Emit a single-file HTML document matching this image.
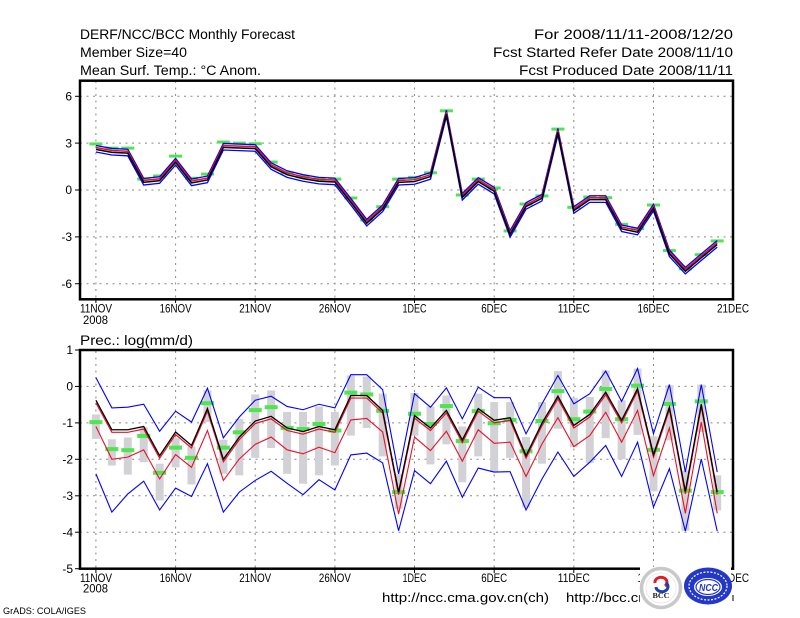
<!DOCTYPE html>
<html><head><meta charset="utf-8"><style>
html,body{margin:0;padding:0;background:#fff;}
svg{display:block;}
</style></head><body>
<svg width="800" height="618" viewBox="0 0 800 618" xmlns="http://www.w3.org/2000/svg" font-family="'Liberation Sans', sans-serif" fill="#000">
<rect x="0" y="0" width="800" height="618" fill="#fff"/>
<defs>
<polyline id="tm" fill="none" vector-effect="non-scaling-stroke" points="1,2.64 2,2.45 3,2.4 4,0.53 5,0.64 6,1.81 7,0.49 8,0.68 9,2.77 10,2.73 11,2.69 12,1.53 13,1.02 14,0.77 15,0.6 16,0.55 17,-0.75 18,-2.09 19,-1.17 20,0.53 21,0.58 22,0.9 23,4.9 24,-0.43 25,0.58 26,-0.04 27,-2.81 28,-1.02 29,-0.49 30,3.73 31,-1.28 32,-0.58 33,-0.58 34,-2.45 35,-2.66 36,-1.13 37,-4.05 38,-5.16 39,-4.3 40,-3.45"/>
<polyline id="bk" fill="none" vector-effect="non-scaling-stroke" points="1,-0.38 2,-1.19 3,-1.19 4,-1.1 5,-1.9 6,-1.25 7,-1.62 8,-0.61 9,-2.0 10,-1.39 11,-0.95 12,-0.82 13,-1.14 14,-1.24 15,-1.1 16,-1.19 17,-0.25 18,-0.25 19,-0.66 20,-2.9 21,-0.8 22,-1.14 23,-0.66 24,-1.47 25,-0.61 26,-0.93 27,-0.86 28,-1.9 29,-1.01 30,-0.27 31,-1.07 32,-0.77 33,-0.16 34,-0.93 35,-0.06 36,-1.87 37,-0.57 38,-2.88 39,-0.49 40,-2.9"/>
</defs>

<text x="80" y="39" font-size="13.5" textLength="215" lengthAdjust="spacingAndGlyphs">DERF/NCC/BCC Monthly Forecast</text>
<text x="80" y="57" font-size="13.5" textLength="107" lengthAdjust="spacingAndGlyphs">Member Size=40</text>
<text x="80" y="75" font-size="13.5" textLength="181" lengthAdjust="spacingAndGlyphs">Mean Surf. Temp.: °C Anom.</text>
<text x="534" y="39" font-size="13.5" textLength="199" lengthAdjust="spacingAndGlyphs">For 2008/11/11-2008/12/20</text>
<text x="493" y="57" font-size="13.5" textLength="240" lengthAdjust="spacingAndGlyphs">Fcst Started Refer Date 2008/11/10</text>
<text x="519" y="75" font-size="13.5" textLength="214" lengthAdjust="spacingAndGlyphs">Fcst Produced Date 2008/11/11</text>

<g stroke="#888" stroke-width="1" stroke-dasharray="2,4.5" fill="none">
<line x1="80" y1="96.3" x2="733" y2="96.3"/>
<line x1="80" y1="143.1" x2="733" y2="143.1"/>
<line x1="80" y1="190" x2="733" y2="190"/>
<line x1="80" y1="236.9" x2="733" y2="236.9"/>
<line x1="80" y1="283.7" x2="733" y2="283.7"/>
<line x1="95.9" y1="81" x2="95.9" y2="299"/>
<line x1="175.6" y1="81" x2="175.6" y2="299"/>
<line x1="255.2" y1="81" x2="255.2" y2="299"/>
<line x1="334.9" y1="81" x2="334.9" y2="299"/>
<line x1="414.5" y1="81" x2="414.5" y2="299"/>
<line x1="494.2" y1="81" x2="494.2" y2="299"/>
<line x1="573.8" y1="81" x2="573.8" y2="299"/>
<line x1="653.5" y1="81" x2="653.5" y2="299"/>
</g>
<g transform="translate(80,190) scale(15.93,-15.62)">
<g fill="#4ee64e">
<rect x="0.592" y="2.854" width="0.816" height="0.192"/>
<rect x="1.592" y="2.584" width="0.816" height="0.192"/>
<rect x="2.592" y="2.584" width="0.816" height="0.192"/>
<rect x="3.592" y="0.604" width="0.816" height="0.192"/>
<rect x="4.592" y="0.804" width="0.816" height="0.192"/>
<rect x="5.592" y="2.074" width="0.816" height="0.192"/>
<rect x="6.592" y="0.654" width="0.816" height="0.192"/>
<rect x="7.592" y="0.924" width="0.816" height="0.192"/>
<rect x="8.592" y="2.974" width="0.816" height="0.192"/>
<rect x="9.592" y="2.904" width="0.816" height="0.192"/>
<rect x="10.592" y="2.864" width="0.816" height="0.192"/>
<rect x="11.592" y="1.694" width="0.816" height="0.192"/>
<rect x="12.592" y="1.004" width="0.816" height="0.192"/>
<rect x="13.592" y="0.754" width="0.816" height="0.192"/>
<rect x="14.592" y="0.604" width="0.816" height="0.192"/>
<rect x="15.592" y="0.604" width="0.816" height="0.192"/>
<rect x="16.592" y="-0.606" width="0.816" height="0.192"/>
<rect x="17.592" y="-2.016" width="0.816" height="0.192"/>
<rect x="18.592" y="-1.166" width="0.816" height="0.192"/>
<rect x="19.592" y="0.604" width="0.816" height="0.192"/>
<rect x="20.592" y="0.714" width="0.816" height="0.192"/>
<rect x="21.592" y="1.004" width="0.816" height="0.192"/>
<rect x="22.592" y="4.974" width="0.816" height="0.192"/>
<rect x="23.592" y="-0.416" width="0.816" height="0.192"/>
<rect x="24.592" y="0.604" width="0.816" height="0.192"/>
<rect x="25.592" y="0.034" width="0.816" height="0.192"/>
<rect x="26.592" y="-2.716" width="0.816" height="0.192"/>
<rect x="27.592" y="-0.996" width="0.816" height="0.192"/>
<rect x="28.592" y="-0.476" width="0.816" height="0.192"/>
<rect x="29.592" y="3.804" width="0.816" height="0.192"/>
<rect x="30.592" y="-1.206" width="0.816" height="0.192"/>
<rect x="31.592" y="-0.546" width="0.816" height="0.192"/>
<rect x="32.592" y="-0.586" width="0.816" height="0.192"/>
<rect x="33.592" y="-2.296" width="0.816" height="0.192"/>
<rect x="34.592" y="-2.566" width="0.816" height="0.192"/>
<rect x="35.592" y="-1.056" width="0.816" height="0.192"/>
<rect x="36.592" y="-3.976" width="0.816" height="0.192"/>
<rect x="37.592" y="-5.146" width="0.816" height="0.192"/>
<rect x="38.592" y="-4.236" width="0.816" height="0.192"/>
<rect x="39.592" y="-3.356" width="0.816" height="0.192"/>
</g>
<use href="#tm" transform="translate(0,0.21)" stroke="#0000ff" stroke-width="1.3"/>
<use href="#tm" transform="translate(0,-0.21)" stroke="#0000ff" stroke-width="1.3"/>
<use href="#tm" transform="translate(0,0.08)" stroke="#e8102a" stroke-width="1.5"/>
<use href="#tm" transform="translate(0,-0.04)" stroke="#000" stroke-width="1.5"/>
</g>
<rect x="80" y="80.7" width="653" height="218.6" fill="none" stroke="#000" stroke-width="2.5"/>
<g stroke="#000" stroke-width="1">
<line x1="75" y1="96.3" x2="80" y2="96.3"/>
<line x1="75" y1="143.1" x2="80" y2="143.1"/>
<line x1="75" y1="190" x2="80" y2="190"/>
<line x1="75" y1="236.9" x2="80" y2="236.9"/>
<line x1="75" y1="283.7" x2="80" y2="283.7"/>
<line x1="95.9" y1="299" x2="95.9" y2="303"/>
<line x1="175.6" y1="299" x2="175.6" y2="303"/>
<line x1="255.2" y1="299" x2="255.2" y2="303"/>
<line x1="334.9" y1="299" x2="334.9" y2="303"/>
<line x1="414.5" y1="299" x2="414.5" y2="303"/>
<line x1="494.2" y1="299" x2="494.2" y2="303"/>
<line x1="573.8" y1="299" x2="573.8" y2="303"/>
<line x1="653.5" y1="299" x2="653.5" y2="303"/>
</g>
<g font-size="12" text-anchor="end">
<text x="72" y="100.5">6</text>
<text x="72" y="147.3">3</text>
<text x="72" y="194.2">0</text>
<text x="72" y="241.1">-3</text>
<text x="72" y="287.9">-6</text>
</g>
<g font-size="11.5">
<text x="80" y="312.7" textLength="32" lengthAdjust="spacingAndGlyphs">11NOV</text>
<text x="83" y="324" textLength="25" lengthAdjust="spacingAndGlyphs">2008</text>
<text x="159.6" y="312.7" textLength="32" lengthAdjust="spacingAndGlyphs">16NOV</text>
<text x="239.2" y="312.7" textLength="32" lengthAdjust="spacingAndGlyphs">21NOV</text>
<text x="318.9" y="312.7" textLength="32" lengthAdjust="spacingAndGlyphs">26NOV</text>
<text x="402.5" y="312.7" textLength="24" lengthAdjust="spacingAndGlyphs">1DEC</text>
<text x="481.2" y="312.7" textLength="26" lengthAdjust="spacingAndGlyphs">6DEC</text>
<text x="557.8" y="312.7" textLength="32" lengthAdjust="spacingAndGlyphs">11DEC</text>
<text x="637.5" y="312.7" textLength="32" lengthAdjust="spacingAndGlyphs">16DEC</text>
<text x="717" y="312.7" textLength="32" lengthAdjust="spacingAndGlyphs">21DEC</text>
</g>

<text x="80" y="345" font-size="13.5" textLength="113" lengthAdjust="spacingAndGlyphs">Prec.: log(mm/d)</text>
<g stroke="#888" stroke-width="1" stroke-dasharray="2,4.5" fill="none">
<line x1="80" y1="386.4" x2="733" y2="386.4"/>
<line x1="80" y1="422.9" x2="733" y2="422.9"/>
<line x1="80" y1="459.3" x2="733" y2="459.3"/>
<line x1="80" y1="495.8" x2="733" y2="495.8"/>
<line x1="80" y1="532.2" x2="733" y2="532.2"/>
<line x1="95.9" y1="351" x2="95.9" y2="568"/>
<line x1="175.6" y1="351" x2="175.6" y2="568"/>
<line x1="255.2" y1="351" x2="255.2" y2="568"/>
<line x1="334.9" y1="351" x2="334.9" y2="568"/>
<line x1="414.5" y1="351" x2="414.5" y2="568"/>
<line x1="494.2" y1="351" x2="494.2" y2="568"/>
<line x1="573.8" y1="351" x2="573.8" y2="568"/>
<line x1="653.5" y1="351" x2="653.5" y2="568"/>
</g>
<g transform="translate(80,386.4) scale(15.93,-36.45)">
<g fill="#d2d2d6">
<rect x="0.749" y="-1.44" width="0.502" height="0.67"/>
<rect x="1.749" y="-2.17" width="0.502" height="0.72"/>
<rect x="2.749" y="-2.42" width="0.502" height="1.02"/>
<rect x="3.749" y="-2.08" width="0.502" height="0.96"/>
<rect x="4.749" y="-3.13" width="0.502" height="1.01"/>
<rect x="5.749" y="-2.22" width="0.502" height="0.80"/>
<rect x="6.749" y="-2.69" width="0.502" height="1.04"/>
<rect x="7.749" y="-0.98" width="0.502" height="0.87"/>
<rect x="8.749" y="-2.40" width="0.502" height="0.94"/>
<rect x="9.749" y="-2.44" width="0.502" height="1.55"/>
<rect x="10.749" y="-1.96" width="0.502" height="1.74"/>
<rect x="11.749" y="-1.69" width="0.502" height="1.58"/>
<rect x="12.749" y="-2.40" width="0.502" height="1.70"/>
<rect x="13.749" y="-2.67" width="0.502" height="1.97"/>
<rect x="14.749" y="-2.44" width="0.502" height="1.89"/>
<rect x="15.749" y="-2.17" width="0.502" height="1.47"/>
<rect x="16.749" y="-1.35" width="0.502" height="1.65"/>
<rect x="17.749" y="-1.14" width="0.502" height="1.41"/>
<rect x="18.749" y="-1.92" width="0.502" height="1.72"/>
<rect x="19.749" y="-3.36" width="0.502" height="0.96"/>
<rect x="20.749" y="-1.35" width="0.502" height="1.17"/>
<rect x="21.749" y="-2.14" width="0.502" height="1.59"/>
<rect x="22.749" y="-1.59" width="0.502" height="1.34"/>
<rect x="23.749" y="-2.63" width="0.502" height="1.53"/>
<rect x="24.749" y="-1.92" width="0.502" height="1.72"/>
<rect x="25.749" y="-2.35" width="0.502" height="1.92"/>
<rect x="26.749" y="-1.96" width="0.502" height="1.53"/>
<rect x="27.749" y="-3.32" width="0.502" height="1.93"/>
<rect x="28.749" y="-2.12" width="0.502" height="1.69"/>
<rect x="29.749" y="-1.16" width="0.502" height="1.58"/>
<rect x="30.749" y="-1.67" width="0.502" height="1.36"/>
<rect x="31.749" y="-2.10" width="0.502" height="1.81"/>
<rect x="32.749" y="-1.42" width="0.502" height="1.86"/>
<rect x="33.749" y="-2.00" width="0.502" height="1.62"/>
<rect x="34.749" y="-1.33" width="0.502" height="1.82"/>
<rect x="35.749" y="-2.88" width="0.502" height="1.51"/>
<rect x="36.749" y="-1.48" width="0.502" height="1.51"/>
<rect x="37.749" y="-3.96" width="0.502" height="1.65"/>
<rect x="38.749" y="-1.25" width="0.502" height="1.30"/>
<rect x="39.749" y="-3.40" width="0.502" height="0.96"/>
</g>
<g fill="#4ee64e">
<rect x="0.592" y="-1.035" width="0.816" height="0.11"/>
<rect x="1.592" y="-1.775" width="0.816" height="0.11"/>
<rect x="2.592" y="-1.805" width="0.816" height="0.11"/>
<rect x="3.592" y="-1.415" width="0.816" height="0.11"/>
<rect x="4.592" y="-2.425" width="0.816" height="0.11"/>
<rect x="5.592" y="-1.735" width="0.816" height="0.11"/>
<rect x="6.592" y="-2.015" width="0.816" height="0.11"/>
<rect x="7.592" y="-0.515" width="0.816" height="0.11"/>
<rect x="8.592" y="-1.735" width="0.816" height="0.11"/>
<rect x="9.592" y="-1.315" width="0.816" height="0.11"/>
<rect x="10.592" y="-0.705" width="0.816" height="0.11"/>
<rect x="11.592" y="-0.625" width="0.816" height="0.11"/>
<rect x="12.592" y="-1.195" width="0.816" height="0.11"/>
<rect x="13.592" y="-1.225" width="0.816" height="0.11"/>
<rect x="14.592" y="-1.085" width="0.816" height="0.11"/>
<rect x="15.592" y="-1.265" width="0.816" height="0.11"/>
<rect x="16.592" y="-0.225" width="0.816" height="0.11"/>
<rect x="17.592" y="-0.275" width="0.816" height="0.11"/>
<rect x="18.592" y="-0.725" width="0.816" height="0.11"/>
<rect x="19.592" y="-2.955" width="0.816" height="0.11"/>
<rect x="20.592" y="-0.805" width="0.816" height="0.11"/>
<rect x="21.592" y="-1.085" width="0.816" height="0.11"/>
<rect x="22.592" y="-0.595" width="0.816" height="0.11"/>
<rect x="23.592" y="-1.555" width="0.816" height="0.11"/>
<rect x="24.592" y="-0.735" width="0.816" height="0.11"/>
<rect x="25.592" y="-1.065" width="0.816" height="0.11"/>
<rect x="26.592" y="-0.975" width="0.816" height="0.11"/>
<rect x="27.592" y="-1.835" width="0.816" height="0.11"/>
<rect x="28.592" y="-1.005" width="0.816" height="0.11"/>
<rect x="29.592" y="-0.185" width="0.816" height="0.11"/>
<rect x="30.592" y="-0.955" width="0.816" height="0.11"/>
<rect x="31.592" y="-0.745" width="0.816" height="0.11"/>
<rect x="32.592" y="-0.125" width="0.816" height="0.11"/>
<rect x="33.592" y="-0.955" width="0.816" height="0.11"/>
<rect x="34.592" y="-0.035" width="0.816" height="0.11"/>
<rect x="35.592" y="-1.795" width="0.816" height="0.11"/>
<rect x="36.592" y="-0.535" width="0.816" height="0.11"/>
<rect x="37.592" y="-2.915" width="0.816" height="0.11"/>
<rect x="38.592" y="-0.465" width="0.816" height="0.11"/>
<rect x="39.592" y="-2.955" width="0.816" height="0.11"/>
</g>
<g fill="none">
<polyline vector-effect="non-scaling-stroke" stroke="#0000ff" stroke-width="1.1" points="1,0.24 2,-0.59 3,-0.57 4,-0.49 5,-1.23 6,-0.68 7,-0.98 8,-0.05 9,-1.41 10,-0.84 11,-0.38 12,-0.27 13,-0.55 14,-0.64 15,-0.49 16,-0.59 17,0.32 18,0.32 19,-0.09 20,-2.4 21,-0.2 22,-0.57 23,-0.04 24,-0.89 25,-0.02 26,-0.31 27,-0.31 28,-1.3 29,-0.48 30,0.3 31,-0.48 32,-0.2 33,0.42 34,-0.41 35,0.49 36,-1.3 37,0.05 38,-2.35 39,0.05 40,-2.35"/>
<polyline vector-effect="non-scaling-stroke" stroke="#0000ff" stroke-width="1.1" points="1,-2.4 2,-3.45 3,-2.95 4,-2.6 5,-3.39 6,-2.79 7,-3.02 8,-2.12 9,-3.45 10,-2.9 11,-2.58 12,-2.33 13,-2.66 14,-2.97 15,-2.56 16,-2.84 17,-1.88 18,-1.83 19,-2.1 20,-3.96 21,-2.31 22,-2.67 23,-2.05 24,-3.04 25,-2.24 26,-2.35 27,-2.34 28,-3.39 29,-2.54 30,-1.8 31,-2.47 32,-2.08 33,-1.62 34,-2.47 35,-1.53 36,-3.31 37,-2.26 38,-3.97 39,-1.99 40,-3.97"/>
<polyline vector-effect="non-scaling-stroke" stroke="#e8102a" stroke-width="1.1" points="1,-1.1 2,-2.0 3,-1.94 4,-1.74 5,-2.54 6,-1.87 7,-2.22 8,-1.21 9,-2.58 10,-1.99 11,-1.59 12,-1.39 13,-1.74 14,-1.85 15,-1.67 16,-1.82 17,-0.92 18,-0.88 19,-1.25 20,-3.5 21,-1.39 22,-1.76 23,-1.23 24,-2.05 25,-1.19 26,-1.56 27,-1.53 28,-2.47 29,-1.58 30,-0.86 31,-1.65 32,-1.35 33,-0.71 34,-1.53 35,-0.66 36,-2.45 37,-1.14 38,-3.48 39,-0.98 40,-3.48"/>
</g>
<use href="#bk" transform="translate(0,-0.07)" stroke="#e8102a" stroke-width="1.2"/>
<use href="#bk" stroke="#000" stroke-width="1.3"/>
</g>
<rect x="80" y="350" width="653" height="218.7" fill="none" stroke="#000" stroke-width="2.5"/>
<g stroke="#000" stroke-width="1">
<line x1="75" y1="350" x2="80" y2="350"/>
<line x1="75" y1="386.4" x2="80" y2="386.4"/>
<line x1="75" y1="422.9" x2="80" y2="422.9"/>
<line x1="75" y1="459.3" x2="80" y2="459.3"/>
<line x1="75" y1="495.8" x2="80" y2="495.8"/>
<line x1="75" y1="532.2" x2="80" y2="532.2"/>
<line x1="75" y1="568.7" x2="80" y2="568.7"/>
<line x1="95.9" y1="569" x2="95.9" y2="573"/>
<line x1="175.6" y1="569" x2="175.6" y2="573"/>
<line x1="255.2" y1="569" x2="255.2" y2="573"/>
<line x1="334.9" y1="569" x2="334.9" y2="573"/>
<line x1="414.5" y1="569" x2="414.5" y2="573"/>
<line x1="494.2" y1="569" x2="494.2" y2="573"/>
<line x1="573.8" y1="569" x2="573.8" y2="573"/>
<line x1="733" y1="595" x2="733" y2="601"/>
</g>
<g font-size="12" text-anchor="end">
<text x="73" y="354.2">1</text>
<text x="73" y="390.6">0</text>
<text x="73" y="427.1">-1</text>
<text x="73" y="463.5">-2</text>
<text x="73" y="500">-3</text>
<text x="73" y="536.4">-4</text>
<text x="73" y="572.9">-5</text>
</g>
<g font-size="11.5">
<text x="80" y="582" textLength="32" lengthAdjust="spacingAndGlyphs">11NOV</text>
<text x="83" y="592.5" textLength="25" lengthAdjust="spacingAndGlyphs">2008</text>
<text x="159.6" y="582" textLength="32" lengthAdjust="spacingAndGlyphs">16NOV</text>
<text x="239.2" y="582" textLength="32" lengthAdjust="spacingAndGlyphs">21NOV</text>
<text x="318.9" y="582" textLength="32" lengthAdjust="spacingAndGlyphs">26NOV</text>
<text x="402.5" y="582" textLength="24" lengthAdjust="spacingAndGlyphs">1DEC</text>
<text x="481.2" y="582" textLength="26" lengthAdjust="spacingAndGlyphs">6DEC</text>
<text x="557.8" y="582" textLength="32" lengthAdjust="spacingAndGlyphs">11DEC</text>
<text x="637.5" y="582" textLength="32" lengthAdjust="spacingAndGlyphs">16DEC</text>
<text x="717" y="582" textLength="32" lengthAdjust="spacingAndGlyphs">21DEC</text>
</g>
<text x="382" y="602" font-size="13" textLength="167" lengthAdjust="spacingAndGlyphs">http://ncc.cma.gov.cn(ch)</text>
<text x="566" y="602" font-size="13" textLength="140" lengthAdjust="spacingAndGlyphs">http://bcc.cma.gov.cn</text>
<text x="3" y="614" font-size="9.5" textLength="83" lengthAdjust="spacingAndGlyphs">GrADS: COLA/IGES</text>

<rect x="640" y="567" width="91" height="43.5" fill="#fff"/>
<g>
<circle cx="661" cy="588" r="19.5" fill="#fff" stroke="#c8c8c8" stroke-width="3.5"/>
<circle cx="661" cy="588" r="15" fill="#fff" stroke="#e6e6e6" stroke-width="0.8"/>
<path d="M655,583 a6,5 0 1 1 10,3" fill="none" stroke="#e31b23" stroke-width="3"/>
<path d="M666,583 a6,5 0 1 1 -10,4" fill="none" stroke="#1a3fb8" stroke-width="3"/>
<text x="652.5" y="598" font-size="7.5" font-weight="bold" font-family="'Liberation Serif', serif" fill="#222" textLength="17" lengthAdjust="spacingAndGlyphs">BCC</text>
</g>
<g>
<ellipse cx="708" cy="586" rx="24" ry="18.5" fill="#2438c8"/>
<ellipse cx="708" cy="586" rx="19" ry="14" fill="none" stroke="#fff" stroke-width="1.2" stroke-dasharray="2,1.5"/>
<ellipse cx="708" cy="587" rx="14" ry="9" fill="#fff"/>
<ellipse cx="708" cy="587" rx="12" ry="7.5" fill="none" stroke="#2438c8" stroke-width="1.2"/>
<text x="699" y="591" font-size="10" font-weight="bold" font-style="italic" fill="#2438c8" textLength="19" lengthAdjust="spacingAndGlyphs">NCC</text>
</g>
</svg>
</body></html>
